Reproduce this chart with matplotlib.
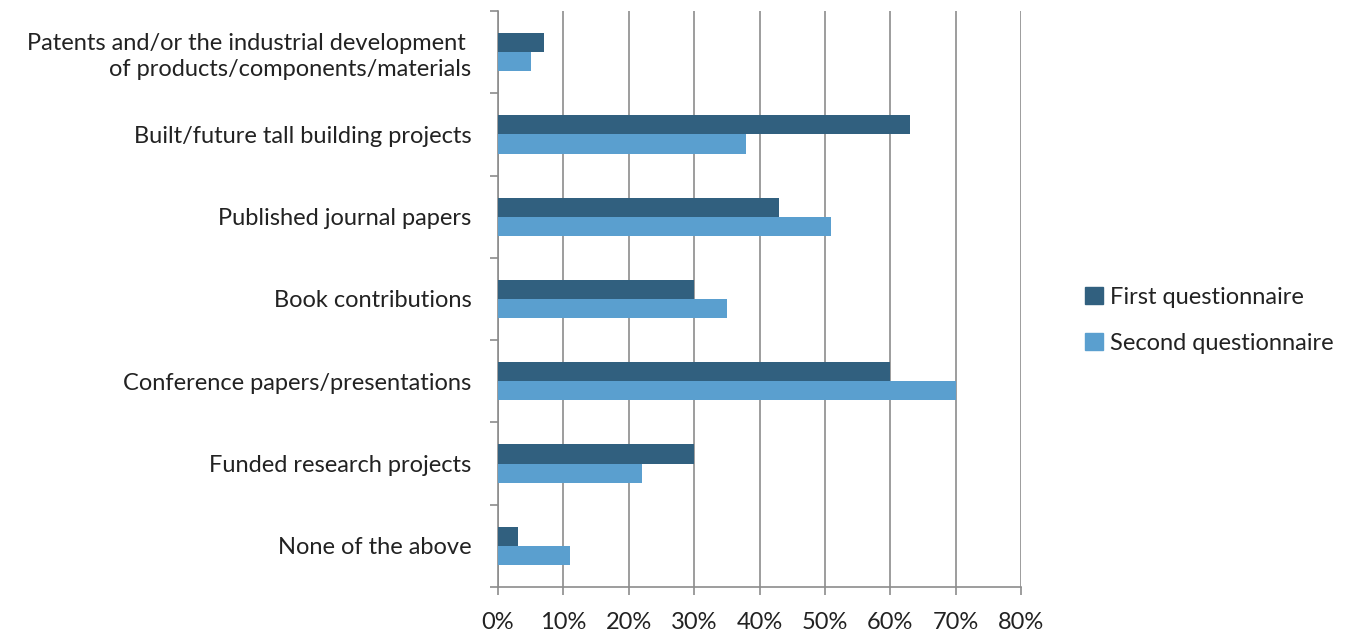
import numpy as np
import matplotlib.pyplot as plt
from matplotlib.patches import Patch

# ----------------------------
# Data
# ----------------------------
categories = [
    "Patents and/or the industrial development \nof products/components/materials",
    "Built/future tall building projects",
    "Published journal papers",
    "Book contributions",
    "Conference papers/presentations",
    "Funded research projects",
    "None of the above",
]
first_q  = [7, 63, 43, 30, 60, 30, 3]
second_q = [5, 38, 51, 35, 70, 22, 11]
series_names = ["First questionnaire", "Second questionnaire"]
xticks = [0, 10, 20, 30, 40, 50, 60, 70, 80]

DARK  = "#31607f"
LIGHT = "#5a9fcf"
GRID  = "#8c8c8c"
TXT   = "#222222"

plt.rcParams['font.family'] = ['Lato', 'DejaVu Sans']

fig = plt.figure(figsize=(13.54, 6.33), dpi=100)
ax = fig.add_axes([0.3678, 0.0727, 0.7541 - 0.3678, 0.9826 - 0.0727])

n = len(categories)
y = np.arange(n)
h = 0.232
ax.barh(y - h / 2, first_q, height=h, color=DARK, zorder=3)
ax.barh(y + h / 2, second_q, height=h, color=LIGHT, zorder=3)

ax.set_ylim(n - 0.5, -0.5)
ax.set_xlim(0, 80)
ax.set_xticks(xticks)
ax.set_xticklabels([f"{v}%" for v in xticks], fontsize=17, color=TXT)

ax.set_yticks(y)
ax.set_yticklabels(categories, fontsize=17, color=TXT, linespacing=1.3)
ax.tick_params(axis="y", which="major", length=0, pad=19)
ax.set_yticks(np.arange(-0.5, n, 1.0), minor=True)
ax.tick_params(axis="y", which="minor", length=6, color=GRID, width=1.2)
ax.tick_params(axis="x", length=6, color=GRID, width=1.2, pad=12)
for lab in ax.get_yticklabels():
    lab.set_horizontalalignment("right")
    lab.set_multialignment("right")

ax.grid(axis="x", color=GRID, linewidth=1.2, zorder=0)
for s in ["top", "right"]:
    ax.spines[s].set_visible(False)
for s in ["left", "bottom"]:
    ax.spines[s].set_color(GRID)
    ax.spines[s].set_linewidth(1.2)

handles = [Patch(color=DARK), Patch(color=LIGHT)]
fig.legend(handles, series_names, loc="center left", bbox_to_anchor=(0.786, 0.494),
           frameon=False, fontsize=17, handlelength=0.75, handleheight=0.75,
           handletextpad=0.3, labelspacing=1.05, labelcolor=TXT)

fig.savefig("out.png", dpi=100)
